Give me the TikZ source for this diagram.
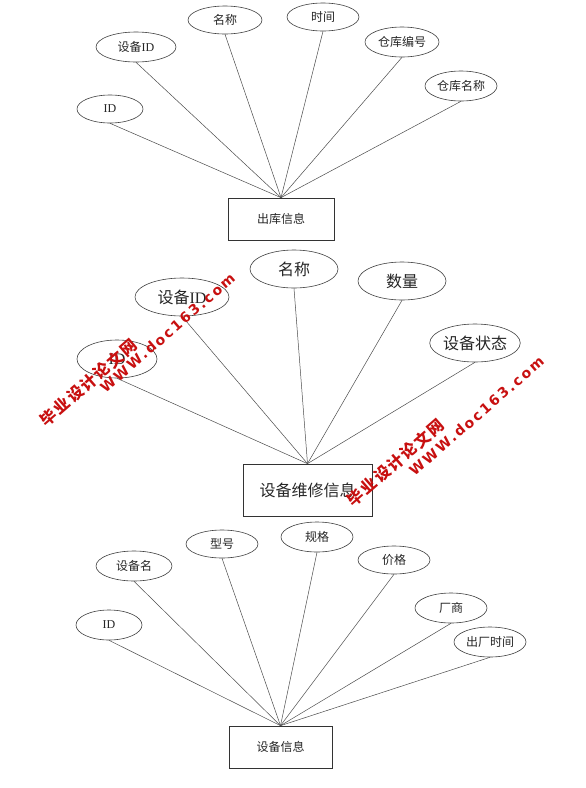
\documentclass[tikz,border=0pt]{standalone}
\usepackage{fontspec}
\setmainfont{Liberation Serif}
\newfontfamily\cjk{Noto Sans CJK SC}
\newfontfamily\wmcjk[LetterSpace=10]{Noto Sans CJK SC}
\newfontfamily\wmlat[LetterSpace=15]{DejaVu Sans}
\usetikzlibrary{shapes.geometric}
\definecolor{wmred}{RGB}{200,16,16}
\tikzset{
  attr/.style={ellipse, draw=black!75, line width=0.6pt, inner sep=0pt, text=black!85},
  small/.style={font=\fontsize{12}{14}\selectfont},
  big/.style={font=\fontsize{16}{18}\selectfont},
  entity/.style={rectangle, draw=black!80, line width=0.7pt, inner sep=0pt, text=black!85},
  link/.style={draw=black!70, line width=0.5pt},
  wmc/.style={text=wmred, font=\fontsize{16}{18}\selectfont\wmcjk\bfseries, rotate=41, inner sep=0pt},
  wml/.style={text=wmred, font=\fontsize{14}{16}\selectfont\wmlat\bfseries, rotate=41, inner sep=0pt}
}
\begin{document}
\begin{tikzpicture}[x=1pt,y=-1pt]
\fill[white] (0,0) rectangle (586,788);
\useasboundingbox (0,0) rectangle (586,788);
% ---------- diagram 1 ----------
\node[entity, small, minimum width=106, minimum height=42] (e1) at (281,219) {\cjk 出库信息};
\node[attr, small, minimum width=66, minimum height=28] (a1) at (110,109) {ID};
\node[attr, small, minimum width=80, minimum height=30] (a2) at (136,47) {{\cjk 设备}ID};
\node[attr, small, minimum width=74, minimum height=28] (a3) at (225,20) {\cjk 名称};
\node[attr, small, minimum width=72, minimum height=28] (a4) at (323,17) {\cjk 时间};
\node[attr, small, minimum width=74, minimum height=30] (a5) at (402,42) {\cjk 仓库编号};
\node[attr, small, minimum width=72, minimum height=30] (a6) at (461,86) {\cjk 仓库名称};
\foreach \n in {a1,a2,a3,a4,a5,a6} \draw[link] (\n.south) -- (e1.north);
% ---------- diagram 2 ----------
\node[entity, big, minimum width=129, minimum height=52] (e2) at (307.5,490) {\cjk 设备维修信息};
\node[attr, big, minimum width=80, minimum height=38] (b1) at (117,359) {ID};
\node[attr, big, minimum width=94, minimum height=38] (b2) at (182,297) {{\cjk 设备}ID};
\node[attr, big, minimum width=88, minimum height=38] (b3) at (294,269) {\cjk 名称};
\node[attr, big, minimum width=88, minimum height=38] (b4) at (402,281) {\cjk 数量};
\node[attr, big, minimum width=88, minimum height=38] (b5) at (475,343) {\cjk 设备状态};
\foreach \n in {b1,b2,b3,b4,b5} \draw[link] (\n.south) -- (e2.north);
% ---------- diagram 3 ----------
\node[entity, small, minimum width=103, minimum height=42] (e3) at (280.5,747) {\cjk 设备信息};
\node[attr, small, minimum width=66, minimum height=30] (c1) at (109,625) {ID};
\node[attr, small, minimum width=76, minimum height=30] (c2) at (134,566) {\cjk 设备名};
\node[attr, small, minimum width=72, minimum height=28] (c3) at (222,544) {\cjk 型号};
\node[attr, small, minimum width=72, minimum height=30] (c4) at (317,537) {\cjk 规格};
\node[attr, small, minimum width=72, minimum height=28] (c5) at (394,560) {\cjk 价格};
\node[attr, small, minimum width=72, minimum height=30] (c6) at (451,608) {\cjk 厂商};
\node[attr, small, minimum width=72, minimum height=30] (c7) at (490,642) {\cjk 出厂时间};
\foreach \n in {c1,c2,c3,c4,c5,c6,c7} \draw[link] (\n.south) -- (e3.north);
% ---------- watermarks ----------
\node[wmc] (w1) at (88.5,382.5) {毕业设计论文网};
\node[wml] (w2) at (167.5,333) {WWW.doc163.com};
\node[wmc] (w3) at (395.5,462.5) {毕业设计论文网};
\node[wml] (w4) at (476.5,416) {WWW.doc163.com};
\end{tikzpicture}
\end{document}
